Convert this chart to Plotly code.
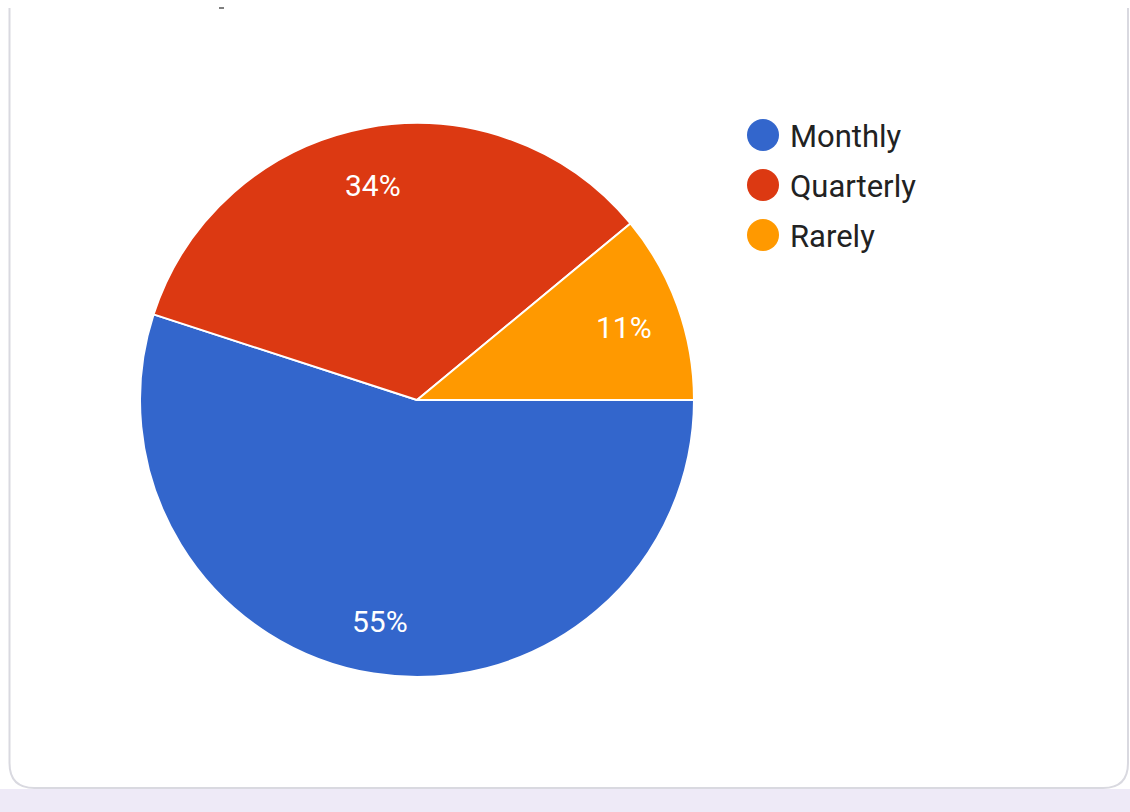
import math
import plotly.graph_objects as go

# Survey answers: how often the tool is used
categories = ["Monthly", "Quarterly", "Rarely"]
shares = [55, 34, 11]
colors = ["#3366cc", "#dc3912", "#ff9900"]

W, H = 1130, 812
cx, cy, R = 417, 400, 277
START_DEG = 90  # first slice starts at 3 o'clock, going clockwise

fig = go.Figure()

fig.add_trace(go.Pie(
    labels=categories,
    values=shares,
    sort=False,
    direction="clockwise",
    rotation=START_DEG,
    marker=dict(colors=colors, line=dict(color="white", width=2)),
    textinfo="none",
    showlegend=False,
    hoverinfo="label+percent",
    domain=dict(x=[(cx - R) / W, (cx + R) / W],
                y=[(H - cy - R) / H, (H - cy + R) / H]),
))

# hidden pixel-space axes for the card frame, slice labels and legend
fig.update_xaxes(range=[0, W], visible=False, fixedrange=True)
fig.update_yaxes(range=[H, 0], visible=False, fixedrange=True)

shapes = [
    # lavender strip under the card
    dict(type="rect", x0=0, x1=W, y0=789, y1=H, fillcolor="#eeeaf7",
         line=dict(width=0), layer="below"),
    # card outline with rounded bottom corners
    dict(type="path",
         path="M 9.5 8 L 9.5 763 Q 9.5 788 34.5 788 L 1103 788 Q 1128 788 1128 763 L 1128 8",
         fillcolor="white", line=dict(color="#d9d9e0", width=2), layer="below"),
    dict(type="line", x0=219, x1=224, y0=8, y1=8,
         line=dict(color="#555555", width=1.5), layer="below"),
]

annotations = []

# percentage labels placed along each slice's middle angle
total = sum(shares)
acc = 0
for v in shares:
    mid = (acc + v / 2) / total * 360.0  # degrees clockwise from 3 o'clock
    acc += v
    a = math.radians(mid)
    annotations.append(dict(
        x=cx + 0.8 * R * math.cos(a) - 2, y=cy + 0.8 * R * math.sin(a) + 3,
        xref="x", yref="y", text=f"{round(v / total * 100)}%", showarrow=False,
        xanchor="center", yanchor="middle",
        font=dict(family="Roboto", size=30, color="white")))

# legend: round swatches with category names
lx, ly0, dy = 763, 135, 50
for i, (name, col) in enumerate(zip(categories, colors)):
    y = ly0 + i * dy
    shapes.append(dict(type="circle", x0=lx - 16, x1=lx + 16, y0=y - 16, y1=y + 16,
                       fillcolor=col, line=dict(width=0)))
    annotations.append(dict(x=lx + 25, y=y + 1, xref="x", yref="y", text=name,
                            showarrow=False, xanchor="left", yanchor="middle",
                            font=dict(family="Roboto", size=31, color="#222222")))

fig.update_layout(
    width=W, height=H,
    margin=dict(l=0, r=0, t=0, b=0),
    paper_bgcolor="white",
    plot_bgcolor="rgba(0,0,0,0)",
    shapes=shapes,
    annotations=annotations,
)

fig.write_html("out.html")
